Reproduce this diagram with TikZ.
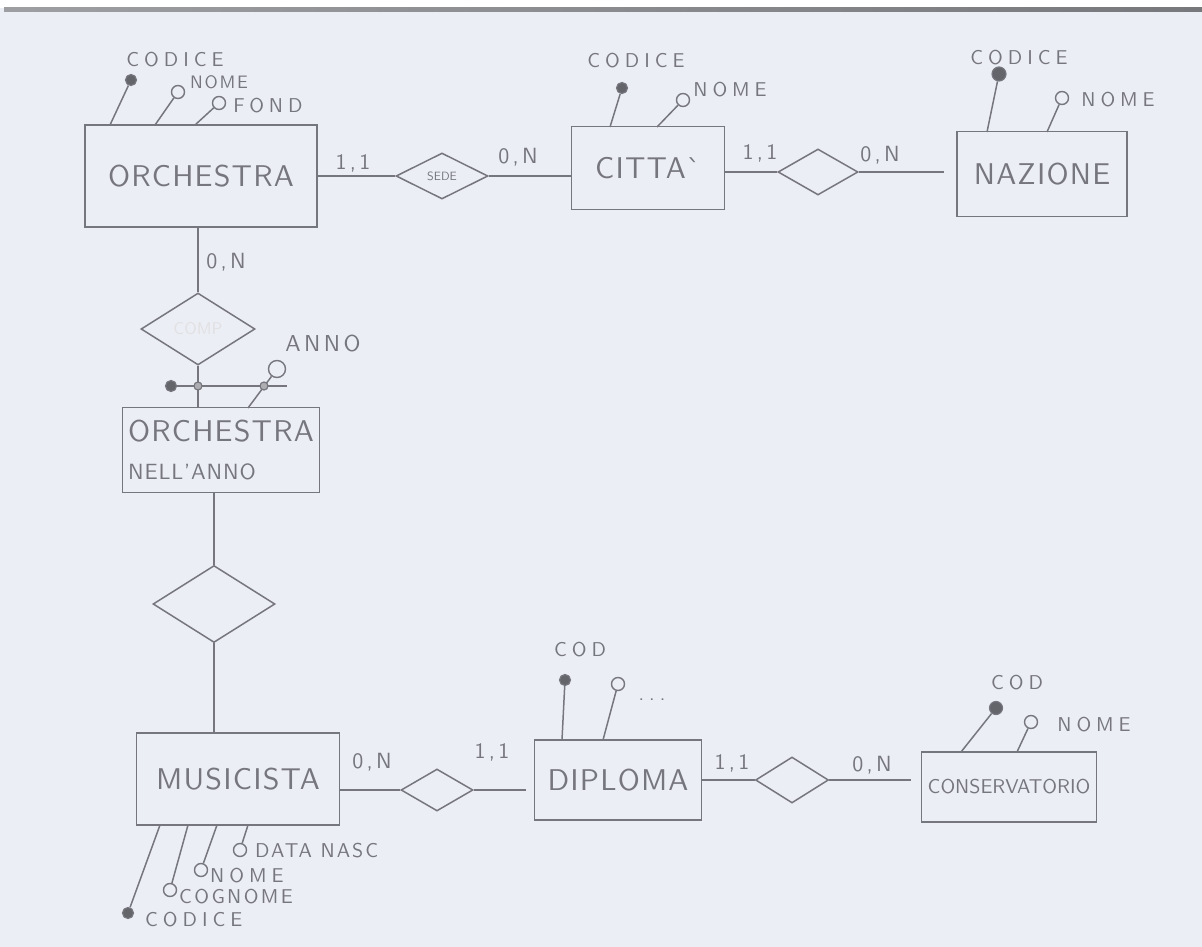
\documentclass[tikz,border=0pt]{standalone}
\usepackage{fontspec}
\setsansfont{lmsans10-regular.otf}
\usepackage{tikz}
\usetikzlibrary{shapes.geometric}
\definecolor{pencil}{RGB}{118,118,126}
\definecolor{paper}{RGB}{236,238,245}
\definecolor{scanedge}{RGB}{60,62,68}
\tikzstyle{entity} = [draw=pencil, line width=1.5pt, inner sep=0pt, text=pencil, font=\sffamily\addfontfeature{LetterSpace=4}\fontsize{30}{34}\selectfont]
\tikzstyle{rel} = [draw=pencil, line width=1.5pt, diamond, aspect=2, inner sep=0pt, text=pencil]
\tikzstyle{conn} = [draw=pencil, line width=1.5pt]
\tikzstyle{card} = [text=pencil, inner sep=0pt, font=\sffamily\addfontfeature{LetterSpace=15}\fontsize{22}{24}\selectfont]
\tikzstyle{attrlbl} = [text=pencil, inner sep=0pt, font=\sffamily\addfontfeature{LetterSpace=25}\fontsize{20}{22}\selectfont]
\tikzstyle{keyattr} = [circle, draw=pencil, fill=pencil!85!black, line width=1.2pt, inner sep=0pt, minimum size=11pt]
\tikzstyle{prop} = [circle, draw=pencil, line width=1.4pt, inner sep=0pt, minimum size=13pt]
\tikzstyle{iddot} = [circle, draw=pencil, fill=pencil!60, line width=1.2pt, inner sep=0pt, minimum size=8pt]

\begin{document}
\begin{tikzpicture}[x=1pt, y=-1pt]
  % Paper
  \fill[paper] (0,0) rectangle (1202,947);
  \fill[white] (0,0) rectangle (1202,8);
  \shade[left color=scanedge!50, middle color=scanedge, right color=scanedge!70] (4,8) rectangle (1202,11.5);
  \useasboundingbox (0,0) rectangle (1202,947);

  % Entities
  \node[entity, minimum width=232pt, minimum height=102pt] (orch) at (201,176) {ORCHESTRA};
  \node[entity, minimum width=153pt, minimum height=83pt] (citta) at (648,168) {CITTA\textasciigrave};
  \node[entity, minimum width=170pt, minimum height=85pt] (naz) at (1042,174) {NAZIONE};
  \node[entity, minimum width=197pt, minimum height=85pt, align=left] (nell) at (221,450) {ORCHESTRA\\[4pt]{\fontsize{22}{24}\selectfont NELL'ANNO}};
  \node[entity, minimum width=203pt, minimum height=92pt] (mus) at (238,779) {MUSICISTA};
  \node[entity, minimum width=167pt, minimum height=80pt] (dipl) at (618,780) {DIPLOMA};
  \node[entity, minimum width=175pt, minimum height=70pt, font=\sffamily\fontsize{20}{22}\selectfont] (cons) at (1009,787) {CONSERVATORIO};

  % Relationships
  \node[rel, minimum width=92pt, minimum height=46pt, font=\sffamily\fontsize{12}{14}\selectfont] (sede) at (442,176) {SEDE};
  \node[rel, minimum width=80pt, minimum height=46pt] (rnaz) at (818,172) {};
  \node[rel, minimum width=114pt, minimum height=72pt, text=pencil!22, font=\sffamily\fontsize{17}{19}\selectfont] (comp) at (198,329) {COMP};
  \node[rel, minimum width=122pt, minimum height=77pt] (rmus) at (214,604) {};
  \node[rel, minimum width=72pt, minimum height=42pt] (rdip) at (437,790) {};
  \node[rel, minimum width=73pt, minimum height=46pt] (rcons) at (792,780) {};

  % Cardinalities
  \node[card] (card1) at (353,163) {1,1};
  \node[card] (card2) at (518,157) {0,N};
  \node[card] (card3) at (760,153) {1,1};
  \node[card] (card4) at (880,155) {0,N};
  \node[card] (card5) at (226,262) {0,N};
  \node[card] (card6) at (372,762) {0,N};
  \node[card] (card7) at (492,752) {1,1};
  \node[card] (card8) at (732,763) {1,1};
  \node[card] (card9) at (872,765) {0,N};

  % Edges
  \draw[conn] (orch.east) -- (sede.west);
  \draw[conn] (sede.east) -- (sede.east -| citta.west);
  \draw[conn] (citta.east |- rnaz.west) -- (rnaz.west);
  \draw[conn, shorten >=12pt] (rnaz.east) -- (rnaz.east -| naz.west);
  \draw[conn] (orch.south -| comp.north) -- (comp.north);
  \draw[conn] (comp.south) -- (comp.south |- nell.north);
  \draw[conn] (nell.south -| rmus.north) -- (rmus.north);
  \draw[conn] (rmus.south) -- (rmus.south |- mus.north);
  \draw[conn] (mus.east |- rdip.west) -- (rdip.west);
  \draw[conn, shorten >=8pt] (rdip.east) -- (rdip.east -| dipl.west);
  \draw[conn] (dipl.east |- rcons.west) -- (rcons.west);
  \draw[conn, shorten >=10pt] (rcons.east) -- (rcons.east -| cons.west);

  % Attributes of ORCHESTRA
  \node[keyattr] (ocod) at (131,80) {};
  \node[prop] (onome) at (178,92) {};
  \node[prop] (ofond) at (219,103) {};
  \coordinate (orch1) at (110,125);
  \coordinate (orch2) at (155,125);
  \coordinate (orch3) at (195,125);
  \draw[conn] (orch1) -- (ocod);
  \draw[conn] (orch2) -- (onome);
  \draw[conn] (orch3) -- (ofond);
  \node[attrlbl] (locod) at (175,60) {CODICE};
  \node[attrlbl, font=\sffamily\addfontfeature{LetterSpace=10}\fontsize{18}{20}\selectfont] (lonome) at (219,82) {NOME};
  \node[attrlbl] (lofond) at (268,106) {FOND};

  % Attributes of CITTA
  \node[keyattr] (ccod) at (622,88) {};
  \node[prop] (cnome) at (683,100) {};
  \coordinate (citta1) at (610,127);
  \coordinate (citta2) at (657,127);
  \draw[conn] (citta1) -- (ccod);
  \draw[conn] (citta2) -- (cnome);
  \node[attrlbl] (lccod) at (636,61) {CODICE};
  \node[attrlbl] (lcnome) at (730,90) {NOME};

  % Attributes of NAZIONE
  \node[keyattr, minimum size=14pt] (ncod) at (999,74) {};
  \node[prop] (nnome) at (1062,98) {};
  \coordinate (naz1) at (987,132);
  \coordinate (naz2) at (1047,132);
  \draw[conn] (naz1) -- (ncod);
  \draw[conn] (naz2) -- (nnome);
  \node[attrlbl] (lncod) at (1019,58) {CODICE};
  \node[attrlbl] (lnnome) at (1118,100) {NOME};

  % Identifier of ORCHESTRA NELL'ANNO
  \node[keyattr] (idkey) at (171,386) {};
  \coordinate (idend) at (287,386);
  \draw[conn] (idkey) -- (idend);
  \node[prop, minimum size=17pt] (anno) at (277,369) {};
  \coordinate (nell1) at (248,408);
  \draw[conn] (nell1) -- (anno);
  \node[iddot] (id1) at (198,386) {};
  \node[iddot] (id2) at (264,386) {};
  \node[attrlbl, font=\sffamily\addfontfeature{LetterSpace=15}\fontsize{23}{25}\selectfont] (lanno) at (323,344) {ANNO};

  % Attributes of MUSICISTA
  \node[keyattr] (mcod) at (128,913) {};
  \node[prop] (mcogn) at (170,890) {};
  \node[prop] (mnome) at (201,870) {};
  \node[prop] (mdata) at (240,850) {};
  \coordinate (mus1) at (160,825);
  \coordinate (mus2) at (188,825);
  \coordinate (mus3) at (217,825);
  \coordinate (mus4) at (248,825);
  \draw[conn] (mus1) -- (mcod);
  \draw[conn] (mus2) -- (mcogn);
  \draw[conn] (mus3) -- (mnome);
  \draw[conn] (mus4) -- (mdata);
  \node[attrlbl, anchor=west] (lmcod) at (145,920) {CODICE};
  \node[attrlbl, anchor=west, font=\sffamily\addfontfeature{LetterSpace=12}\fontsize{20}{22}\selectfont] (lmcogn) at (179,897) {COGNOME};
  \node[attrlbl, anchor=west] (lmnome) at (210,876) {NOME};
  \node[attrlbl, anchor=west, font=\sffamily\addfontfeature{LetterSpace=10}\fontsize{20}{22}\selectfont] (lmdata) at (255,851) {DATA NASC};

  % Attributes of DIPLOMA
  \node[keyattr] (dcod) at (565,680) {};
  \node[prop] (daltro) at (618,684) {};
  \coordinate (dipl1) at (562,740);
  \coordinate (dipl2) at (603,740);
  \draw[conn] (dipl1) -- (dcod);
  \draw[conn] (dipl2) -- (daltro);
  \node[attrlbl] (ldcod) at (580,650) {COD};
  \node[attrlbl] (ldaltro) at (652,700) {...};

  % Attributes of CONSERVATORIO
  \node[keyattr, minimum size=13pt] (kcod) at (996,708) {};
  \node[prop] (knome) at (1031,722) {};
  \coordinate (cons1) at (961,752);
  \coordinate (cons2) at (1017,752);
  \draw[conn] (cons1) -- (kcod);
  \draw[conn] (cons2) -- (knome);
  \node[attrlbl] (lkcod) at (1017,683) {COD};
  \node[attrlbl] (lknome) at (1094,725) {NOME};

\end{tikzpicture}
\end{document}
